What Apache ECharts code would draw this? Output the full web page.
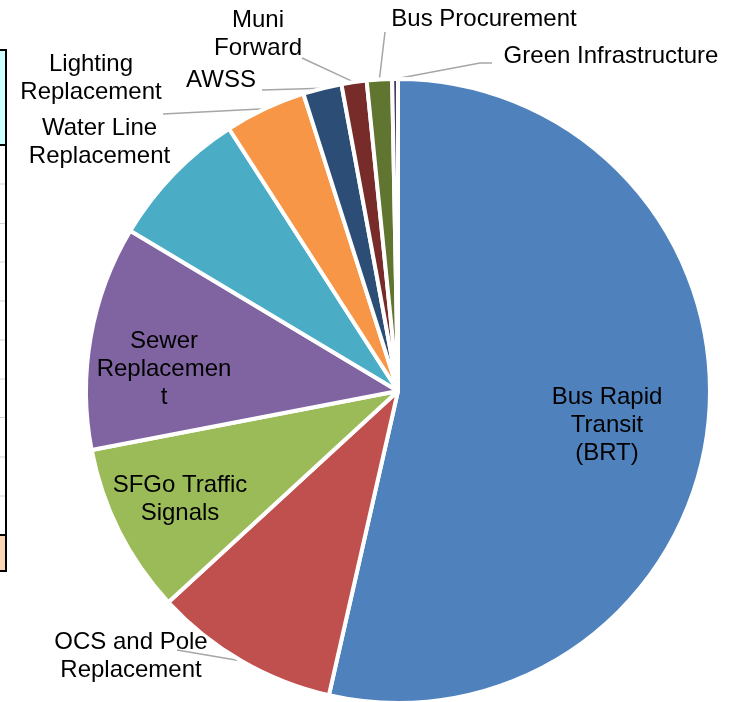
<!DOCTYPE html>
<html><head><meta charset="utf-8">
<script src="https://cdn.jsdelivr.net/npm/echarts@6/dist/echarts.min.js"></script>
<style>html,body{margin:0;padding:0;background:#fff}#c{width:737px;height:702px}</style>
</head><body><div id="c"></div>
<script>
// ---- data ----
const categories = ['Bus Rapid Transit (BRT)', 'OCS and Pole Replacement', 'SFGo Traffic Signals',
  'Sewer Replacement', 'Water Line Replacement', 'Lighting Replacement', 'AWSS',
  'Muni Forward', 'Bus Procurement', 'Green Infrastructure'];
const shares = [53.5, 9.6, 8.8, 11.6, 7.3, 4.2, 2.0, 1.3, 1.3, 0.3];
const labelTexts = ['Bus Rapid\nTransit\n(BRT)', 'OCS and Pole\nReplacement', 'SFGo Traffic\nSignals',
  'Sewer\nReplacemen\nt', 'Water Line\nReplacement', 'Lighting\nReplacement', 'AWSS',
  'Muni\nForward', 'Bus Procurement', 'Green Infrastructure'];

// ---- styles / layout ----
const colors = ['#4F81BD', '#C0504D', '#9BBB59', '#8064A2', '#4BACC6', '#F79646',
  '#2C4D75', '#772C2A', '#5F7530', '#4D3B62'];
const insideLabels = [0, 2, 3];
const noLineLabels = [4];
const labelPlacement = [
  {x: 607, y: 425},
  {x: 131, y: 656, line: [[177, 650]]},
  {x: 180, y: 499},
  {x: 164, y: 369},
  {x: 99.5, y: 142},
  {x: 91, y: 78, line: [[163, 114]]},
  {x: 221, y: 80, line: [[262, 90]]},
  {x: 258, y: 34, line: [[302, 58]]},
  {x: 484, y: 19, line: [[385, 32]]},
  {x: 611, y: 56, line: [[480, 63], [492, 63]]}
];

const chart = echarts.init(document.getElementById('c'), null, {renderer: 'canvas'});

const pieData = categories.map((name, i) => {
  const item = {name: name, value: shares[i], itemStyle: {color: colors[i]}};
  if (insideLabels.includes(i)) {
    item.label = {position: 'inside'};
    item.labelLine = {show: false};
  } else if (noLineLabels.includes(i)) {
    item.labelLine = {show: false};
  }
  return item;
});

// left-edge fragment of neighbouring table
const tableGraphics = [];
tableGraphics.push({type: 'rect', shape: {x: 0, y: 50, width: 6, height: 95}, style: {fill: '#CCFFFF'}, silent: true});
tableGraphics.push({type: 'rect', shape: {x: 0, y: 535, width: 6, height: 36}, style: {fill: '#FCD5B4'}, silent: true});
[184, 223.5, 262, 301, 340, 379, 417.5, 457, 496].forEach(y => {
  tableGraphics.push({type: 'line', shape: {x1: 0, y1: y, x2: 6, y2: y}, style: {stroke: '#D4D4D4', lineWidth: 1}, silent: true});
});
[50, 145, 535, 571].forEach(y => {
  tableGraphics.push({type: 'line', shape: {x1: 0, y1: y, x2: 7, y2: y}, style: {stroke: '#000', lineWidth: 2}, silent: true});
});
tableGraphics.push({type: 'line', shape: {x1: 6, y1: 49, x2: 6, y2: 572}, style: {stroke: '#000', lineWidth: 2}, silent: true});

chart.setOption({
  animation: false,
  backgroundColor: '#ffffff',
  graphic: tableGraphics,
  series: [{
    type: 'pie',
    center: [398, 391],
    radius: 312,
    startAngle: 90,
    clockwise: true,
    avoidLabelOverlap: false,
    emphasis: {disabled: true},
    itemStyle: {borderColor: '#ffffff', borderWidth: 4},
    label: {
      show: true,
      position: 'outside',
      color: '#000',
      fontFamily: 'Liberation Sans, Arial, sans-serif',
      fontSize: 24,
      lineHeight: 28,
      formatter: p => labelTexts[p.dataIndex]
    },
    labelLine: {show: true, lineStyle: {color: '#A6A6A6', width: 1.5}},
    labelLayout: function (p) {
      const L = labelPlacement[p.dataIndex];
      const out = {x: L.x, y: L.y, align: 'center', verticalAlign: 'middle'};
      if (L.line && p.labelLinePoints) {
        const pts = [p.labelLinePoints[0].slice()].concat(L.line.map(q => q.slice()));
        while (pts.length < 3) pts.push(pts[pts.length - 1].slice());
        out.labelLinePoints = pts;
      }
      return out;
    },
    data: pieData
  }]
});
</script>
</body></html>
